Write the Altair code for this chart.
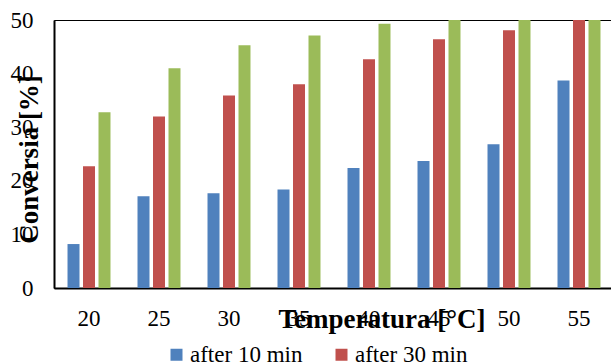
import altair as alt
import pandas as pd

# Conversion measured at each temperature, three reaction times
temperatures = ["20", "25", "30", "35", "40", "45", "50", "55"]
series_names = ["after 10 min", "after 30 min", "after 60 min"]
after_10 = [8.2, 17.1, 17.7, 18.4, 22.4, 23.7, 26.8, 38.7]
after_30 = [22.7, 32.0, 35.9, 38.0, 42.7, 46.4, 48.1, 52.0]
after_60 = [32.8, 41.0, 45.3, 47.1, 49.3, 52.5, 55.0, 57.5]
colors = ["#4F81BD", "#C0504D", "#9BBB59"]
y_ticks = [0, 10, 20, 30, 40, 50]

rows = []
for name, vals in zip(series_names, [after_10, after_30, after_60]):
    for t, v in zip(temperatures, vals):
        rows.append({"Temperatura": t, "Seria": name, "Conversia": v})
df = pd.DataFrame(rows)

FONT = "Liberation Serif"

chart = alt.Chart(df).mark_bar(clip=True).encode(
    x=alt.X(
        "Temperatura:N",
        sort=temperatures,
        scale=alt.Scale(paddingInner=0.386, paddingOuter=0.193),
        axis=alt.Axis(
            title="Temperatura [°C]",
            labelAngle=0,
            ticks=False,
            tickSize=0,
            labelPadding=37,
            labelBaseline="alphabetic",
            titleX=327.5,
            titleY=39,
            titleAlign="center",
            titleBaseline="alphabetic",
        ),
    ),
    xOffset=alt.XOffset(
        "Seria:N",
        sort=series_names,
        scale=alt.Scale(paddingInner=0.226, paddingOuter=0),
    ),
    y=alt.Y(
        "Conversia:Q",
        scale=alt.Scale(domain=[0, 50], nice=False),
        axis=alt.Axis(
            title="Conversia [%]",
            values=y_ticks,
            grid=False,
            ticks=False,
            tickSize=0,
            labelPadding=21,
            titleAngle=270,
            titleX=-17,
            titleY=139,
            titleAlign="center",
            titleBaseline="alphabetic",
        ),
    ),
    color=alt.Color(
        "Seria:N",
        sort=series_names,
        scale=alt.Scale(domain=series_names, range=colors),
        legend=alt.Legend(
            title=None,
            orient="none",
            legendX=111,
            legendY=323,
            direction="horizontal",
            columns=2,
            symbolType="square",
            symbolSize=144,
            symbolStrokeWidth=0,
            labelOffset=2,
            labelLimit=0,
            columnPadding=27,
            rowPadding=20,
            padding=0,
        ),
    ),
).properties(
    width=560,
    height=268,
    autosize=alt.AutoSizeParams(type="none"),
    padding={"left": 54, "top": 20, "right": -3, "bottom": 76},
).configure(
    font=FONT,
).configure_axis(
    labelFont=FONT,
    labelFontSize=23,
    labelColor="#000000",
    domainColor="#000000",
    domainWidth=2,
    titleFont=FONT,
    titleFontSize=27,
    titleFontWeight="bold",
    titleColor="#000000",
    grid=False,
).configure_legend(
    labelFont=FONT,
    labelFontSize=23,
    labelColor="#000000",
).configure_view(
    stroke="#000000",
    strokeWidth=1,
)

chart.save("out.html", embed_options={"renderer": "svg", "actions": False})
